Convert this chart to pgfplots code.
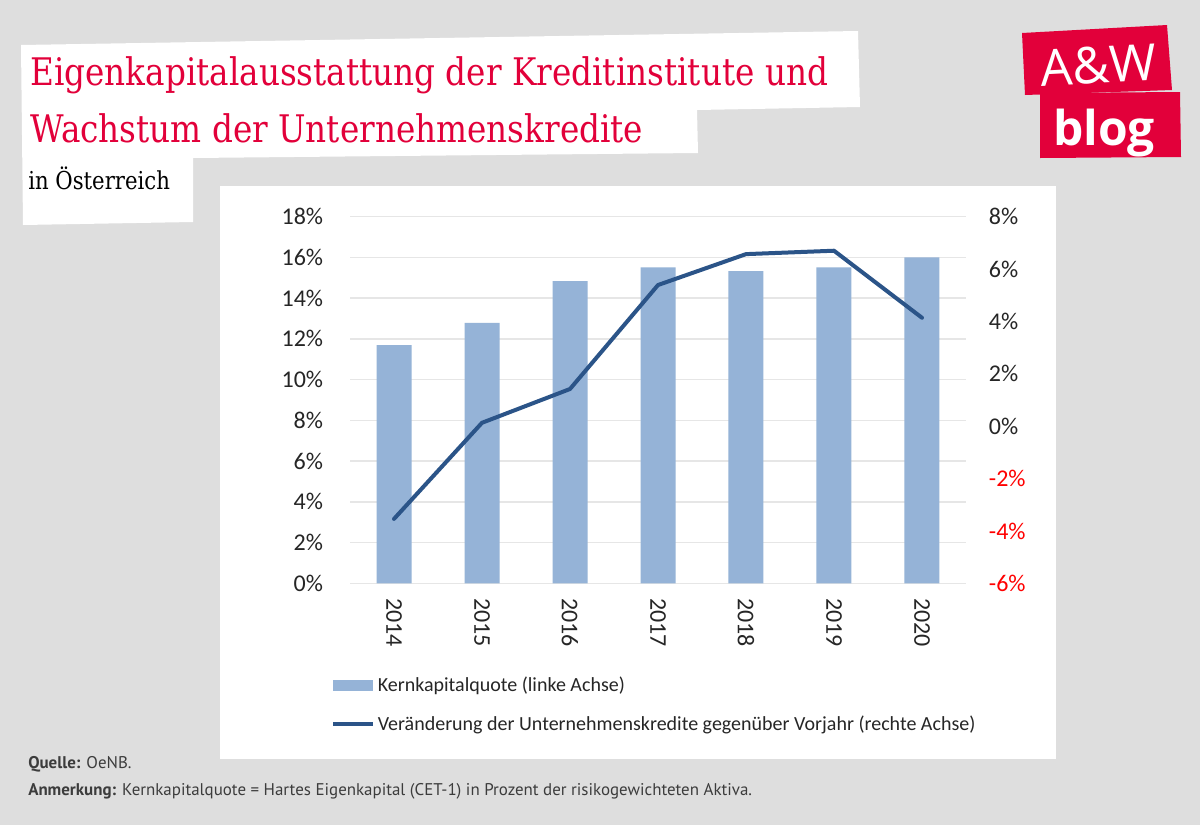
\documentclass[border=0pt]{standalone}
\usepackage{pgfplots}
\pgfplotsset{compat=1.18}
\usepackage{fontspec}
\setmainfont{Carlito}
\newfontfamily\titlefont[FakeStretch=0.86]{DejaVu Serif}
\newfontfamily\notefont{PT Sans}
\newfontfamily\logofont{Open Sans}
\definecolor{bg}{HTML}{DEDEDE}
\definecolor{awred}{HTML}{E2003A}
\definecolor{barblue}{HTML}{95B3D7}
\definecolor{lineblue}{HTML}{2B5488}
\definecolor{gridgray}{HTML}{E6E6E6}
\definecolor{ticktext}{HTML}{262626}
\definecolor{notegray}{HTML}{3C3C3C}
\definecolor{negred}{HTML}{FF0000}

\pgfplotstableread{
x kq
0 11.70
1 12.79
2 14.84
3 15.51
4 15.33
5 15.51
6 16.00
}\barsdata
\pgfplotstableread{
x vk
0 -3.54
1 0.13
2 1.42
3 5.39
4 6.57
5 6.70
6 4.14
}\linedata

\begin{document}
\begin{tikzpicture}
\begin{scope}[x=0.75pt,y=-0.75pt]
\fill[bg] (0,0) rectangle (1200,825);
\useasboundingbox (0,0) rectangle (1200,825);
% white title shape
\fill[white] (21,45) -- (858,31) -- (860,107) -- (697,110) -- (698,153) -- (193,158) -- (193,222) -- (23,225) -- cycle;
% chart panel
\fill[white] (220,186) rectangle (1056,759);
% titles
\node[anchor=base west, inner sep=0, text=awred, font=\titlefont\fontsize{28.5pt}{28.5pt}\selectfont] at (30,85) {Eigenkapitalausstattung der Kreditinstitute und};
\node[anchor=base west, inner sep=0, text=awred, font=\titlefont\fontsize{28.5pt}{28.5pt}\selectfont] at (30,142) {Wachstum der Unternehmenskredite};
\node[anchor=base west, inner sep=0, text=black, font=\titlefont\fontsize{18.5pt}{18.5pt}\selectfont] at (28,189) {in Österreich};
% logo
\fill[awred] (1022,33) -- (1167,25) -- (1172,90) -- (1025,95) -- cycle;
\fill[awred] (1040,93) -- (1180,92) -- (1181,157) -- (1040,158) -- cycle;
\node[anchor=base, inner sep=0, text=white, rotate=3, font=\logofont\fontsize{38pt}{38pt}\selectfont] at (1099,83) {A\&W};
\node[anchor=base, inner sep=0, text=white, font=\logofont\bfseries\fontsize{36pt}{36pt}\selectfont] at (1104,145) {blog};
% notes
\node[anchor=base west, inner sep=0, text=notegray, font=\notefont\fontsize{12.7pt}{12.7pt}\selectfont] at (28,768) {\textbf{Quelle:} OeNB.};
\node[anchor=base west, inner sep=0, text=notegray, font=\notefont\fontsize{12.7pt}{12.7pt}\selectfont] at (28,795) {\textbf{Anmerkung:} Kernkapitalquote = Hartes Eigenkapital (CET-1) in Prozent der risikogewichteten Aktiva.};
\end{scope}

\begin{axis}[
  at={(262.5pt,-437.5pt)}, anchor=south west,
  scale only axis, width=462pt, height=275pt,
  xmin=-0.5, xmax=6.5, ymin=0, ymax=18,
  xtick={0,1,2,3,4,5,6},
  xticklabels={2014,2015,2016,2017,2018,2019,2020},
  ytick={0,2,4,6,8,10,12,14,16,18},
  yticklabels={0\%,2\%,4\%,6\%,8\%,10\%,12\%,14\%,16\%,18\%},
  x tick label style={rotate=-90, anchor=west, inner sep=0pt, font=\fontsize{18pt}{18pt}\selectfont, text=ticktext},
  y tick label style={anchor=east, inner sep=0pt, font=\fontsize{18pt}{18pt}\selectfont, text=ticktext},
  xticklabel shift=11pt, yticklabel shift=20pt,
  axis line style={draw=none}, major tick length=0pt,
  ymajorgrids, grid style={gridgray, line width=1pt},
  legend style={draw=none, fill=none, inner sep=0pt, at={(-0.031,-0.255)}, anchor=north west,
    font=\fontsize{15pt}{15pt}\selectfont, text=ticktext, row sep=16.5pt, column sep=2pt,
    nodes={inner sep=0pt}},
  legend cell align=left,
]
\addplot[ybar, bar width=26.25pt, bar shift=0pt, fill=barblue, draw=none,
  legend image code/.code={\fill[barblue] (0pt,-4.25pt) rectangle (30pt,4.25pt);}]
  table[x=x, y=kq] {\barsdata};
\addlegendentry{Kernkapitalquote (linke Achse)}
\addlegendimage{legend image code/.code={\draw[lineblue, line width=3pt] (0pt,0pt) -- (30pt,0pt);}}
\addlegendentry{Veränderung der Unternehmenskredite gegenüber Vorjahr (rechte Achse)}
\end{axis}

\begin{axis}[
  at={(262.5pt,-437.5pt)}, anchor=south west,
  scale only axis, width=462pt, height=275pt,
  xmin=-0.5, xmax=6.5, ymin=-6, ymax=8,
  axis y line*=right, hide x axis,
  ytick={-6,-4,-2,0,2,4,6,8},
  yticklabels={\textcolor{negred}{-6\%},\textcolor{negred}{-4\%},\textcolor{negred}{-2\%},0\%,2\%,4\%,6\%,8\%},
  y tick label style={anchor=west, inner sep=0pt, font=\fontsize{18pt}{18pt}\selectfont, text=ticktext},
  yticklabel shift=17pt,
  axis line style={draw=none}, major tick length=0pt,
]
\addplot[lineblue, line width=3pt, line join=round, line cap=round] table[x=x, y=vk] {\linedata};
\end{axis}
\end{tikzpicture}
\end{document}
